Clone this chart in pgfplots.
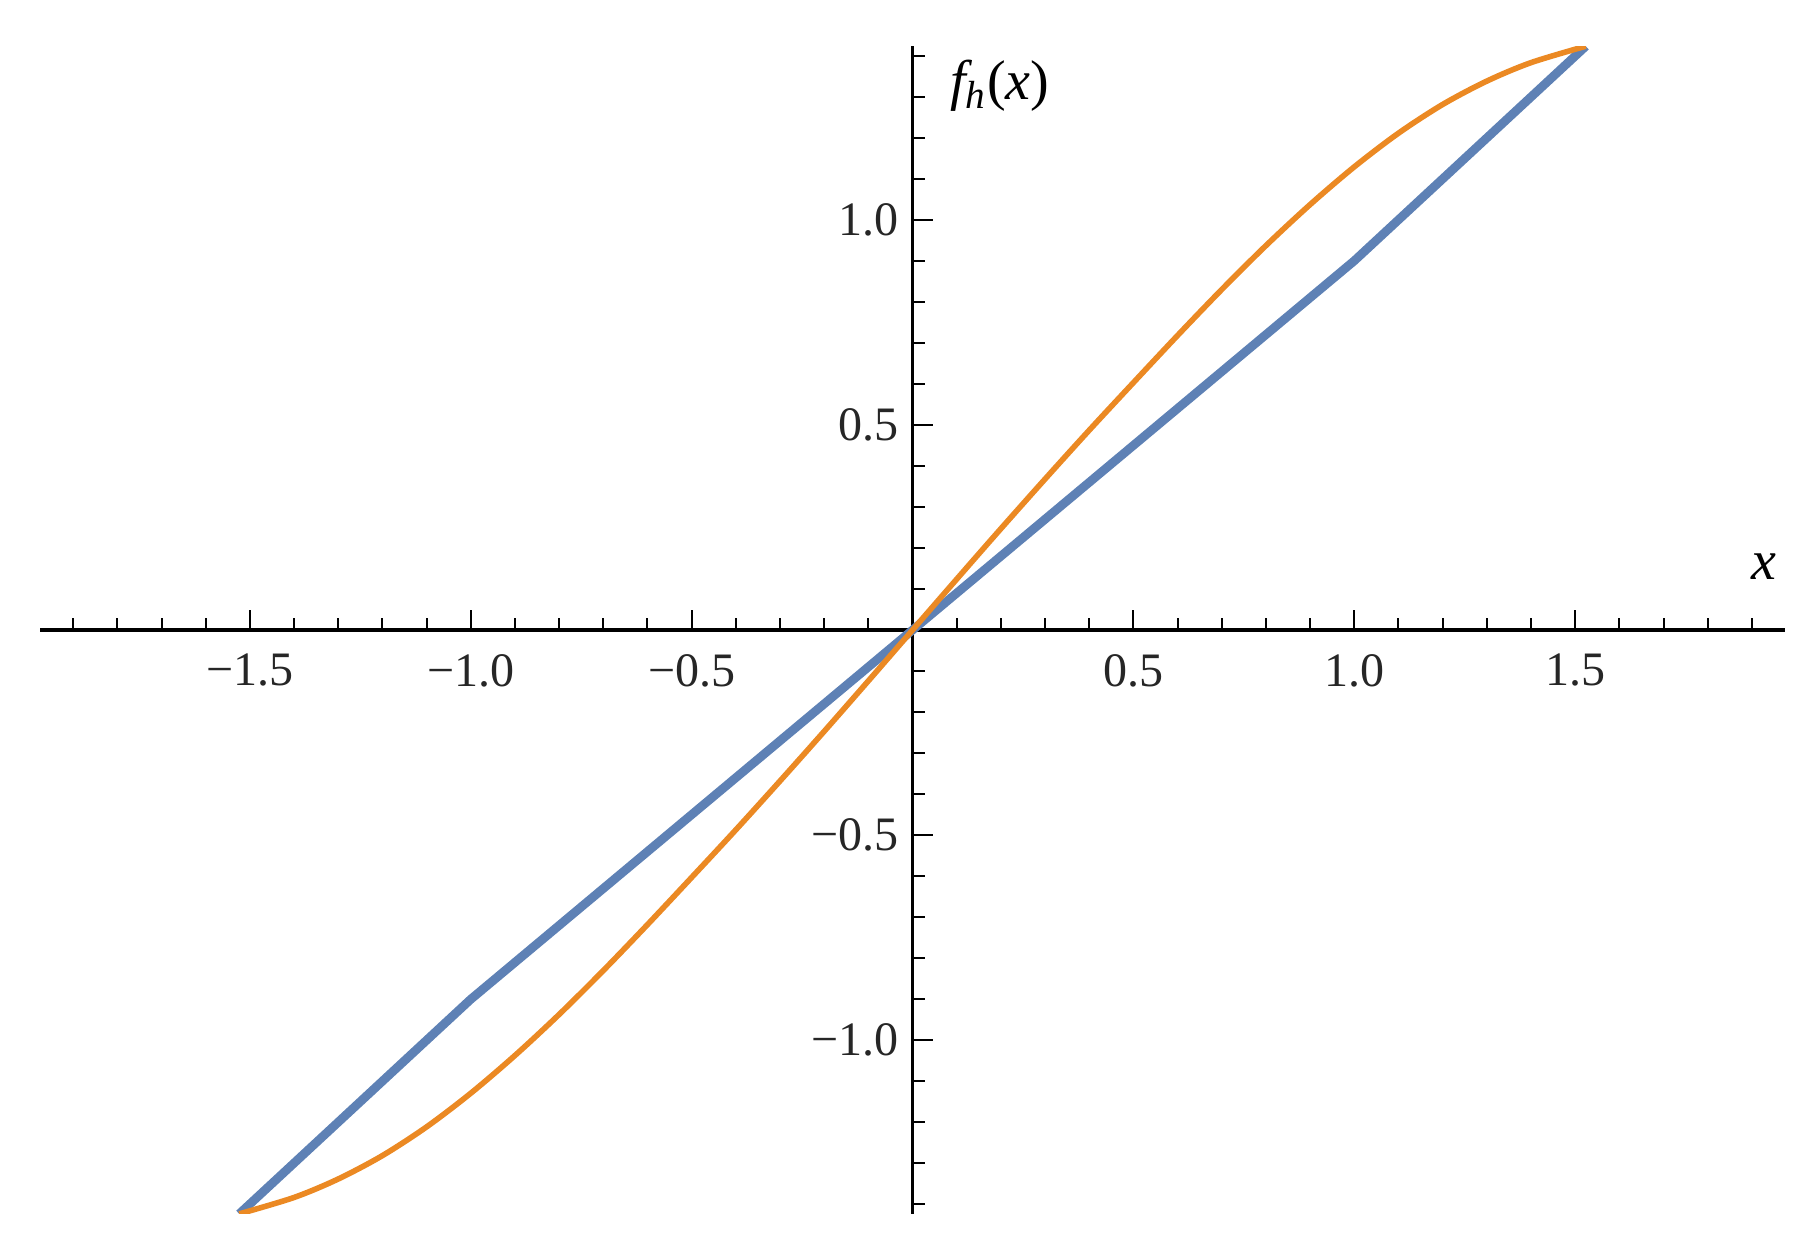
\documentclass[border=0pt]{standalone}
\usepackage{fontspec}
\setmainfont{Liberation Serif}
\usepackage{pgfplots}
\pgfplotsset{compat=1.18}
\definecolor{mblue}{RGB}{94,129,181}
\definecolor{morange}{RGB}{235,137,35}
\begin{document}
\begin{tikzpicture}
\useasboundingbox (-10pt,-10.5pt) rectangle (444.5pt,303.3pt);
\begin{axis}[
  scale only axis, width=436pt, height=291.75pt,
  xmin=-1.975, xmax=1.975, ymin=-1.423, ymax=1.423,
  axis lines=middle,
  axis line style={line width=0.8pt, -},
  tick align=inside,
  major tick length=5pt, minor tick length=3pt,
  every tick/.style={line width=0.5pt, black},
  xtick={-1.5,-1,-0.5,0.5,1,1.5},
  xticklabels={−1.5,−1.0,−0.5,0.5,1.0,1.5},
  minor xtick={-1.9,-1.8,-1.7,-1.6,-1.4,-1.3,-1.2,-1.1,-0.9,-0.8,-0.7,-0.6,-0.4,-0.3,-0.2,-0.1,
               0.1,0.2,0.3,0.4,0.6,0.7,0.8,0.9,1.1,1.2,1.3,1.4,1.6,1.7,1.8,1.9},
  ytick={-1,-0.5,0.5,1},
  yticklabels={−1.0,−0.5,0.5,1.0},
  minor ytick={-1.4,-1.3,-1.2,-1.1,-0.9,-0.8,-0.7,-0.6,-0.4,-0.3,-0.2,-0.1,
               0.1,0.2,0.3,0.4,0.6,0.7,0.8,0.9,1.1,1.2,1.3,1.4},
  tick label style={font=\fontsize{12}{14}\selectfont, text=black!85},
  xticklabel style={yshift=-2.5pt},
]
% piecewise linear curve
\addplot[mblue, line width=2.2pt, line join=round] coordinates {
  (-1.524,-1.423) (-1,-0.9) (0,0) (1,0.9) (1.524,1.423)};
% smooth curve
\addplot[morange, line width=1.4pt, smooth] coordinates {
  (-1.524,-1.423) (-1.4,-1.383) (-1.3,-1.338) (-1.2,-1.281) (-1.1,-1.211)
  (-1.0,-1.129) (-0.9,-1.037) (-0.8,-0.937) (-0.7,-0.830) (-0.6,-0.718) (-0.5,-0.603)
  (-0.4,-0.487) (-0.3,-0.368) (-0.2,-0.247) (-0.1,-0.124) (0,0)
  (0.1,0.124) (0.2,0.247) (0.3,0.368) (0.4,0.487) (0.5,0.603) (0.6,0.718)
  (0.7,0.830) (0.8,0.937) (0.9,1.037) (1.0,1.129) (1.1,1.211) (1.2,1.281)
  (1.3,1.338) (1.4,1.383) (1.524,1.423)};
\node[anchor=base west, inner sep=0, font=\fontsize{14}{16}\selectfont]
  at (axis cs:1.898,0.122) {\textit{x}};
\node[anchor=base west, inner sep=0, font=\fontsize{14}{16}\selectfont]
  at (axis cs:0.084,1.293) {\textit{f}\kern-0.12em\textsubscript{\textit{h}}(\textit{x})};
\end{axis}
\end{tikzpicture}
\end{document}
